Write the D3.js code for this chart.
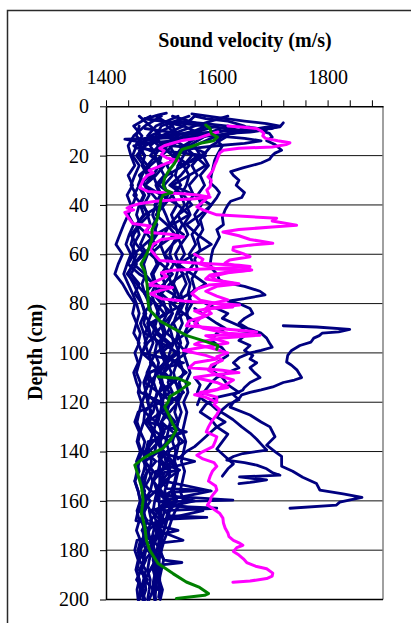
<!DOCTYPE html>
<html><head><meta charset="utf-8">
<script src="https://cdn.jsdelivr.net/npm/d3@7"></script>
<style>body{margin:0;background:#fff}svg{display:block}</style>
</head><body>
<svg id="chart" width="411" height="623"></svg>
<script>
// ---------- data ----------
const xLabelTicks = [1400, 1600, 1800];
const xMinorTicks = [1400,1440,1480,1520,1560,1600,1640,1680,1720,1760,1800,1840,1880];
const yTicks = [0,20,40,60,80,100,120,140,160,180,200];
const depthGrid = [4,8,12,16,20,24,28,32,36,40,44,48,52,56,60,64,68,72,76,80,84,88,92,96,100,104,108,112,116,120,124,128,132,136,140,144,148,152,156,160,164,168,172,176,180,184,188,192,196,200];

// navy profiles sampled on depthGrid (velocity, m/s)
const navyL1 = [1500,1470,1450,1440,1445,1452,1440,1448,1438,1445, 1440,1432,1425,1418,1430,1422,1416,1430,1440,1452, 1448,1455,1450,1460,1452,1458,1450,1455,1462,1500, 1458,1452,1460,1456,1462,1455,1460,1452,1458,1462, 1456,1460,1455,1462,1458,1460,1456,1460,1462,1458];
const navyL2 = [null,1520,1480,1460,1470,1465,1475,1460,1470,1462, 1468,1455,1460,1450,1448,1455,1445,1460,1452,1465, 1470,1462,1468,1472,1465,1540,1475,1468,1472,1465, 1470,1468,1462,1470,1466,1472,1468,1462,1470,1465, 1468,1472,1466,1470,1462,1468,1465,1470,1472,1466];
const navyL3 = [1560,1540,1500,1480,1490,1475,1485,1470,1478,1468, 1475,1480,1470,1462,1475,1468,1472,1465,1470,1478, 1482,1475,1480,1485,1478,1482,1476,1484,1480,1475, 1482,1478,1485,1480,1476,1482,1478,1484,1480,1560, 1478,1482,1476,1480,1484,1478,1475,1480,1478,1475];
const navyL4 = [null,1600,1540,1510,1500,1495,1505,1490,1498,1488, 1495,1485,1492,1480,1488,1495,1485,1490,1482,1488, 1495,1490,1485,1492,1488,1495,1490,1486,1492,1488, 1494,1490,1486,1492,1488,1560,1490,1486,1492,1488, 1485,1490,1486,1482,1488,1485,1490,1486,1484,1488];
const navyL5 = [1490,1520,1530,1515,1525,1510,1520,1505,1512,1500, 1508,1515,1505,1498,1505,1512,1500,1506,1498,1505, 1510,1502,1508,1500,1505,1510,1504,1498,1506,1502, 1508,1500,1505,1498,1503,1508,1500,1505,1590,1502, 1506,1500,1495,1502,1498,1504,1500,1496,1502,1498];
const navyL6 = [null,1640,1580,1550,1540,1530,1525,1535,1520,1528, 1518,1525,1530,1520,1515,1522,1512,1518,1525,1515, 1520,1512,1518,1522,1515,1510,1518,1512,1520,1515, 1510,1516,1512,1508,1514,1510,1516,1512,1506,1512, 1500,1496,1492,1488,1484,1488,1485,1490,1486,1488];
const navyL7 = [1520,1580,1560,1545,1555,1540,1550,1545,1535,1542, 1530,1538,1528,1535,1525,1532,1528,1522,1530,1535, 1528,1522,1530,1525,1532,1528,1522,1526,1532,1528, 1524,1530,1525,1520,1526,1522,1528,1524,1518,1524, 1512,1508,1504,1500,1496,1492,1488,1492,1490,1488];
const navyL8 = [null,1460,1455,1470,1460,1475,1465,1458,1468,1460, 1455,1462,1450,1445,1455,1448,1440,1450,1458,1465, 1472,1468,1478,1470,1476,1482,1474,1478,1470,1476, 1480,1474,1545,1476,1472,1468,1474,1470,1466,1472, 1468,1464,1470,1466,1472,1468,1464,1470,1466,1468];
const navyL9 = [1550,1500,1490,1500,1488,1496,1485,1492,1500,1490, 1484,1492,1486,1478,1486,1492,1482,1488,1494,1500, 1492,1498,1504,1496,1500,1506,1498,1502,1496,1502, 1498,1494,1500,1496,1502,1498,1494,1500,1496,1492, 1575,1494,1490,1496,1492,1488,1494,1490,1486,1490];
const navyL10 = [null,1700,1600,1560,1570,1555,1565,1550,1558,1545, 1552,1540,1548,1535,1542,1530,1538,1545,1535,1540, 1532,1538,1530,1535,1528,1534,1540,1532,1538,1530, 1536,1530,1526,1532,1528,1524,1530,1526,1522,1528, 1515,1510,1505,1500,1498,1495,1492,1496,1494,null];
const navyL11 = [null,null,1620,1590,1575,1585,1570,1578,1565,1572, 1560,1568,1555,1562,1550,1558,1545,1552,1548,1555, 1545,1550,1542,1548,1540,1546,1552,1544,1548,1540, 1546,1542,1538,1544,1540,1536,1542,1538,1534,1540, 1525,1518,1512,1505,1500,1495,null,null,null,null];
const navyL12 = [1480,1450,1465,1455,1448,1460,1452,1445,1455,1448, 1440,1450,1442,1436,1445,1438,1432,1440,1448,1455, 1460,1455,1462,1458,1465,1460,1455,1462,1458,1464, 1460,1456,1462,1458,1464,1460,1456,1452,1458,1462, 1458,1454,1530,1456,1452,1458,1454,1460,1456,1458];
const navyL13 = [null,1580,1540,1520,1500,1480,1460,1470,1500,1530, 1550,1520,1490,1470,1450,1440,1460,1490,1520,1540, 1510,1480,1470,1500,1530,1510,1480,1470,1495,1520, 1500,1475,1490,1515,1495,1470,1485,1510,1490,1470, 1480,1500,1475,1465,1485,1470,1460,1475,1465,1470];
const navyL14 = [1620,1560,1510,1540,1560,1580,1550,1520,1560,1590, 1570,1545,1565,1590,1560,1530,1555,1580,1550,1520, 1540,1565,1545,1520,1500,1525,1545,1520,1505,1530, 1515,1500,1520,1540,1510,1495,1515,1500,1490,1510, 1495,1505,1490,1500,1495,null,null,null,null,null];
const navyL15 = [null,1510,1530,1500,1520,1540,1510,1495,1520,1505, 1490,1510,1525,1500,1480,1500,1520,1505,1485,1500, 1520,1505,1490,1510,1525,1505,1490,1500,1515,1495, 1510,1525,1500,1490,1505,1520,1500,1485,1500,1515, 1495,1480,1500,1490,1475,1490,1480,1470,1485,1478];
const navyL16 = [1530,1490,1475,1495,1480,1505,1490,1470,1485,1500, 1470,1455,1475,1490,1465,1450,1470,1485,1470,1490, 1505,1485,1495,1515,1490,1480,1500,1520,1495,1485, 1470,1490,1505,1485,1470,1490,1475,1465,1480,1470, 1460,1475,1465,1480,1470,1460,1472,1468,1462,1470];
const navyL17 = [null,1620,1570,1540,1525,1550,1535,1515,1540,1555, 1530,1515,1540,1520,1505,1525,1540,1515,1500,1520, 1540,1520,1510,1530,1545,1520,1505,1525,1540,1515, 1500,1520,1535,1510,1495,1515,1530,1505,1495,1510, 1490,1505,1495,1485,1500,1490,1480,null,null,null];
const navyL18 = [1460,1480,1500,1470,1455,1468,1480,1460,1450,1465, 1478,1460,1445,1455,1470,1450,1438,1455,1470,1482, 1468,1480,1492,1475,1465,1485,1495,1478,1470,1490, 1485,1470,1482,1495,1478,1468,1485,1476,1465,1480, 1470,1462,1478,1466,1458,1472,1464,1455,1468,1460];
const navyGridSeries = [navyL1,navyL2,navyL3,navyL4,navyL5,navyL6,navyL7,navyL8,navyL9,navyL10,navyL11,navyL12,navyL13,navyL14,navyL15,navyL16,navyL17,navyL18];

// navy profiles as [depth, velocity]
const navyT1 = [[2.8,1509],[3.5,1495],[4.3,1483],[5,1470],[6,1500],[7,1540],[8,1580],[9,1620],[10,1650],[11,1630],[12,1590],[12.8,1520],[13.3,1434],[14,1450],[15,1480],[16,1470],[18,1460],[20,1470]];
const navyT2 = [[3.1,1555],[4.5,1600],[6,1650],[7,1690],[8,1714],[9,1700],[10,1620],[11,1560],[12,1500],[13,1470],[14,1490],[16,1520],[17,1560],[18,1540],[20,1520]];
const navyT3 = [[5,1470],[6,1500],[8,1540],[10,1560],[12,1520],[14,1470],[15,1455],[17,1470],[19,1490]];
const navyT4 = [[6,1530],[7,1580],[8,1620],[8.5,1660],[9.5,1690],[10.5,1660],[11,1620],[12,1600],[13,1650],[14,1680],[15,1650],[16,1600],[17,1560],[19,1580],[21,1560],[24,1540]];
const navyT5 = [[9,1470],[10,1500],[11,1530],[12,1580],[13,1560],[14,1520],[15,1470],[16,1450],[17,1455],[18,1500],[19,1540],[20,1580],[22,1560],[24,1530]];
const navyRA = [[6.7,1720],[8.3,1714],[9,1690],[10,1680],[11,1695],[12.5,1700],[14,1690],[15.5,1705],[17.8,1717],[19,1705],[20,1700],[21.5,1695],[23,1680],[25,1647],[26.5,1625],[28,1630],[30,1640],[32,1635],[33,1640],[35,1650],[37,1645],[38.5,1625],[40,1620],[42,1615],[45,1610],[48,1612],[50,1600],[53,1605],[56,1598],[58,1593],[61,1590],[64,1588],[66,1592],[68,1600],[70.5,1605],[71.6,1618],[73,1650],[75,1678],[76.5,1687],[78,1650],[79,1620],[80,1640],[82,1660],[84,1665],[86,1650],[88,1640],[90,1655],[92,1680],[94,1690],[96,1695],[97.7,1700],[99,1680],[100,1660],[102,1640],[104,1630],[106,1640],[108,1620],[110,1600],[112,1590],[115,1580],[118,1570],[121,1565]];
const navyRC = [[4,1560],[5,1580],[6,1620],[8,1650],[10,1640],[12,1610],[14,1600],[16,1610],[18,1605],[20,1600],[22,1596],[25,1593],[28,1590],[31,1588],[33,1598],[35,1605],[37,1600],[40,1590],[43,1580],[46,1570],[50,1575],[54,1565],[58,1570],[62,1560],[66,1565],[70,1555],[74,1560],[78,1550],[82,1545],[86,1548]];
const navyRB = [[80,1580],[82,1600],[84,1620],[86,1610],[88,1630],[90,1650],[91,1640],[92,1678],[93,1650],[95,1640],[97,1660],[99,1650],[101,1665],[102.5,1660],[104,1672],[106,1660],[108,1668],[110,1678],[112,1660],[114,1650],[115,1647],[117,1630],[119,1640],[121,1620],[123,1610],[126,1600],[128,1615],[130,1600],[132,1590],[134,1580],[136,1570],[138,1560],[140,1545],[143,1530]];
const navyRD = [[82,1560],[85,1580],[88,1600],[90,1615],[92,1600],[95,1590],[98,1610],[101,1620],[104,1600],[107,1590],[110,1610],[113,1620],[116,1640],[118,1600],[121,1580],[124,1570],[127,1590],[130,1600],[133,1620],[136,1610],[139,1600],[142,1615],[145,1630],[147,1620],[150,1610]];
const navyS1 = [[89,1720],[89.5,1780],[90.5,1840],[91.5,1820],[92,1790],[93,1785],[94,1775],[95.6,1770],[97,1750],[99,1735],[101,1728],[103.7,1726],[105,1735],[107,1745],[110,1753],[111,1740],[112,1720],[113.8,1701],[115,1680],[116,1660],[117,1645],[118,1642],[120,1630],[122,1624],[125.2,1660],[128,1680],[130,1696],[134,1705],[137.4,1690],[140,1705],[142,1717],[146,1717],[148,1737],[150.4,1755],[153,1780],[155.6,1786],[157.2,1828],[158.6,1862],[160.5,1822],[161.7,1816],[163,1732]];
const navyS2 = [[110,1560],[113,1570],[116,1565],[119,1575],[121,1590],[123,1600],[125,1615],[127,1629],[130,1645],[132.5,1660],[135,1672],[137,1680],[139.4,1690],[140.8,1647],[142,1630],[143.5,1618],[144.5,1650],[145.5,1672],[147,1690],[148.5,1700],[149.6,1714],[150.3,1641],[151.5,1690],[152.5,1660],[153,1640]];
const navyB1 = [[138,1500],[142,1495],[145,1505],[147.5,1533],[148.5,1505],[152,1500],[155,1510],[155.7,1575],[156.5,1515],[158,1505],[159.7,1629],[160.3,1520],[162,1510],[163,1600],[164,1505],[166,1515],[166.7,1582],[167.5,1505],[170,1500],[172,1495],[176,1539],[177,1500],[180,1495],[184,1505],[185,1537],[186,1500],[190,1495],[195,1498],[199,1495]];
const navyV1 = [[128,1500],[136,1498],[144,1497],[152,1497],[160,1496],[168,1497],[176,1497],[184,1496],[192,1497],[199.5,1497]];
const navyPaths = [navyT1,navyT2,navyT3,navyT4,navyT5,navyRA,navyRC,navyRB,navyRD,navyS1,navyS2,navyB1,navyV1];

const magentaM1 = [[8,1620],[8.5,1650],[9,1672],[10,1680],[11,1685],[12,1683],[13,1688],[14,1710],[14.8,1732],[15.5,1725],[16.5,1700],[17,1640],[17.8,1612],[19,1605],[22,1600],[24,1596],[26,1593],[28.6,1584],[30,1590],[32.6,1588],[34,1582],[36,1586],[38,1579],[40.8,1564],[42,1575],[44,1600],[45.4,1708],[46.5,1700],[48.2,1744],[48.9,1700],[50,1640],[51,1611],[52.5,1640],[54,1660],[55.5,1701],[56.3,1660],[57.2,1630],[58.3,1629],[60,1650],[61,1660],[62.3,1623],[63.5,1615],[65,1640],[66.4,1663],[67.2,1620],[68.4,1588],[70,1580],[71.8,1630],[72.5,1585],[74,1565],[76,1555],[78.6,1570],[80,1600],[81.4,1629],[82,1590],[84,1575]];
const magentaM2 = [[10.4,1602],[11.5,1585],[13,1565],[14,1535],[15,1520],[16,1505],[17,1497],[18,1505],[19.5,1500],[21,1510],[22,1530],[23,1510],[24.6,1494],[26,1478],[27,1485],[28,1475],[30,1467],[33,1461],[34.5,1475],[35.2,1510],[35.5,1540],[36,1565],[36.9,1588],[37.5,1560],[38,1520],[38.5,1490],[39.5,1460],[40.5,1445],[41.3,1438],[42,1450],[43,1434],[45,1440],[47.5,1448],[48.5,1480],[49.5,1475],[51,1470],[52,1520],[53,1540],[54,1500],[56,1485],[58,1480],[61,1491],[62.5,1497],[63.5,1560],[64.5,1640],[65,1660],[65.8,1600],[66.5,1520],[67.5,1500],[69,1510],[71,1490],[72.5,1475],[73.5,1520],[74.5,1500],[76,1480],[78,1500],[79,1540],[80,1600],[80.6,1641],[81.5,1600],[83,1560],[85,1580],[87,1550],[89,1545],[90,1600],[91.5,1672],[92.5,1640],[93,1580],[94.5,1600],[96,1620],[97.5,1580],[99,1540],[101,1580],[102.5,1600],[104,1560],[106,1550],[107,1610],[108,1640],[109,1590],[110,1560],[112,1600],[114,1620],[116,1570],[118,1600],[119.5,1600],[121,1595],[123,1605],[125,1600],[128,1590],[130,1585],[132,1581],[134,1600],[136,1597],[138,1593],[140,1575],[141.5,1564],[143,1575],[144.5,1595],[146,1600],[148,1592],[150,1588],[152,1585],[154,1598],[155.6,1600],[157,1595],[158.5,1590],[160,1588],[161.7,1583],[163,1592],[165,1605],[167,1611],[169,1612],[171,1615],[173,1620],[174.5,1622],[176,1630],[177,1640],[178,1647],[179,1636],[180.5,1630],[182,1640],[183.5,1648],[185,1654],[186.5,1670],[187.5,1690],[189.3,1701],[190.5,1700],[191.5,1690],[192.5,1660],[193,1629]];
const magentaM3 = [[60,1560],[62,1575],[64,1570],[66,1600],[66.5,1660],[67.5,1620],[69,1590],[70.5,1600],[72,1640],[73,1600],[75,1580],[77,1600],[78.5,1620],[80,1590],[82,1580],[84,1590],[86,1570],[88,1560],[90,1575],[92,1620],[92.8,1678],[94,1610],[95.5,1570],[96.5,1560],[98,1590],[100,1620],[101.5,1600],[103,1610],[105,1590],[107,1585],[109,1600],[111,1630],[113,1615],[115,1600],[117,1560],[118,1580],[120,1600]];
const magentaPaths = [magentaM1, magentaM2, magentaM3];

const greenMean = [[7.6,1580],[9,1588],[11,1590],[12.5,1601],[14,1594],[15,1570],[16.5,1552],[17.5,1537],[20.5,1530],[23,1524],[26.6,1512],[29,1506],[32,1503],[34,1508],[35,1519],[36,1503],[38,1499],[41,1497],[46,1492],[50,1483],[54,1483],[59.6,1474],[64,1463],[67,1470],[72,1474],[77,1476],[79.4,1476],[82.6,1478],[84,1485],[87,1497],[90,1521],[93,1546],[95,1575],[97,1602],[98.5,1600],[104,null],[109.7,1494],[110.3,1530],[112.4,1551],[115.3,1533],[117.8,1515],[120,1512],[121.9,1506],[124.5,1512],[128.6,1520],[131.3,1527],[134.7,1518],[138.7,1503],[140.8,1482],[142.8,1467],[145.5,1452],[149.6,1458],[154.3,1464],[159.7,1467],[165.1,1464],[170.5,1470],[176,1473],[180,1479],[185.4,1494],[189.5,1521],[192.9,1545],[195.1,1569],[197.6,1585],[198.3,1578],[199.6,1527]];

// ---------- chart ----------
const svg = d3.select('#chart');
const plot = {left:106, right:383, top:106.3, bottom:599.5};
const x = d3.scaleLinear().domain([1400,1900]).range([plot.left, plot.right]);
const y = d3.scaleLinear().domain([0,200]).range([plot.top, plot.bottom]);
const font = "'Liberation Serif','Times New Roman',serif";

svg.append('rect').attr('x',7.5).attr('y',10.5).attr('width',430).attr('height',640)
  .attr('fill','#fff').attr('stroke','#2a2a2a').attr('stroke-width',1.5);

// gridlines
svg.append('g').selectAll('line').data(yTicks.filter(d=>d>0 && d<200)).join('line')
  .attr('x1',plot.left).attr('x2',plot.right).attr('y1',d=>y(d)).attr('y2',d=>y(d))
  .attr('stroke','#111').attr('stroke-width',1);
svg.append('line').attr('x1',plot.right).attr('x2',plot.right).attr('y1',plot.top).attr('y2',plot.bottom)
  .attr('stroke','#808080').attr('stroke-width',1.5);
svg.append('line').attr('x1',plot.left).attr('x2',plot.right).attr('y1',plot.bottom).attr('y2',plot.bottom)
  .attr('stroke','#000').attr('stroke-width',1.5);

const lineGen = d3.line().defined(d=>d[1]!=null).x(d=>x(d[1])).y(d=>y(d[0]));
const gLines = svg.append('g').attr('fill','none').attr('stroke-linejoin','round').attr('stroke-linecap','round');
const gridToPairs = arr => depthGrid.map((d,i)=>[d, arr[i]]);
navyGridSeries.forEach(s=>{
  gLines.append('path').attr('d', lineGen(gridToPairs(s))).attr('stroke','#000080').attr('stroke-width',2.8);
});
navyPaths.forEach(s=>{
  gLines.append('path').attr('d', lineGen(s)).attr('stroke','#000080').attr('stroke-width',2.8);
});
magentaPaths.forEach(s=>{
  gLines.append('path').attr('d', lineGen(s)).attr('stroke','#ff00ff').attr('stroke-width',3);
});
gLines.append('path').attr('d', lineGen(greenMean)).attr('stroke','#008000').attr('stroke-width',3);

// axes
const xAxis = d3.axisTop(x).tickValues(xMinorTicks).tickSize(6).tickSizeOuter(0).tickPadding(16)
  .tickFormat(d => xLabelTicks.includes(d) ? d : '');
const gx = svg.append('g').attr('transform',`translate(0,${plot.top})`).call(xAxis);
const yAxis = d3.axisLeft(y).tickValues(yTicks).tickSize(6).tickSizeOuter(0).tickPadding(11);
const gy = svg.append('g').attr('transform',`translate(${plot.left},0)`).call(yAxis);
[gx,gy].forEach(g=>{
  g.selectAll('path.domain').attr('stroke','#000').attr('stroke-width',1.5);
  g.selectAll('.tick line').attr('stroke','#000').attr('stroke-width',1);
  g.selectAll('text').attr('font-family',font).attr('font-size',20).attr('fill','#000');
});

svg.append('text').attr('x',245).attr('y',47).attr('text-anchor','middle')
  .attr('font-family',font).attr('font-size',20).attr('font-weight','bold').text('Sound velocity (m/s)');
svg.append('text').attr('transform','translate(42,352) rotate(-90)').attr('text-anchor','middle')
  .attr('font-family',font).attr('font-size',20).attr('font-weight','bold').text('Depth (cm)');
</script>
</body></html>
